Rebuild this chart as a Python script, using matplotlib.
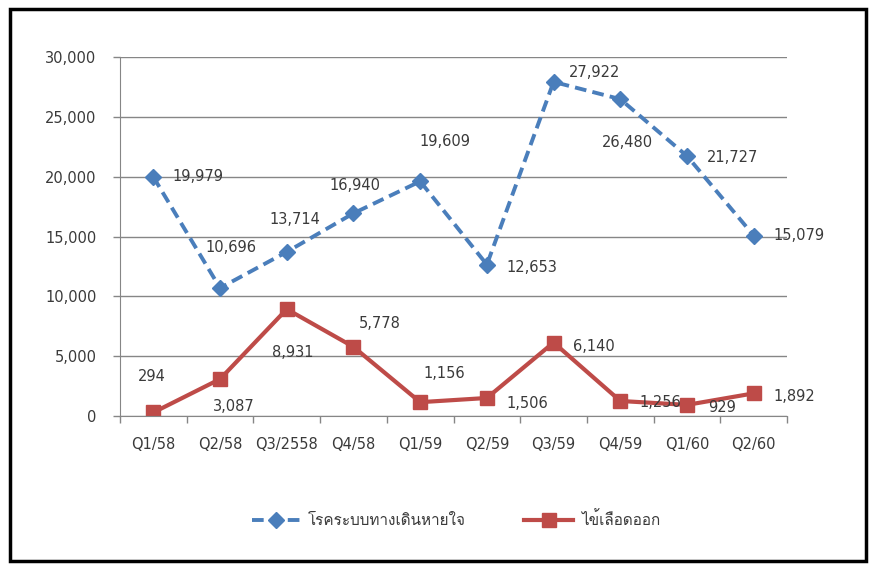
import matplotlib
matplotlib.use("Agg")
import matplotlib.pyplot as plt
import matplotlib.patches as patches
from matplotlib import font_manager
from matplotlib.ft2font import FT2Font

quarters = ["Q1/58", "Q2/58", "Q3/2558", "Q4/58", "Q1/59", "Q2/59", "Q3/59", "Q4/59", "Q1/60", "Q2/60"]
respiratory = [19979, 10696, 13714, 16940, 19609, 12653, 27922, 26480, 21727, 15079]
dengue = [294, 3087, 8931, 5778, 1156, 1506, 6140, 1256, 929, 1892]
series_names = ["โรคระบบทางเดินหายใจ", "ไข้เลือดออก"]

# label offsets in points (dx, dy) and horizontal alignment
resp_offsets = [(14, 0, "left"), (8, 29, "center"), (6, 23, "center"), (1, 20, "center"),
                (18, 29, "center"), (14, -2, "left"), (11, 7, "left"), (5, -31, "center"),
                (14, -1, "left"), (14, 0, "left")]
deng_offsets = [(-1, 26, "center"), (10, -20, "center"), (4, -31, "center"), (19, 17, "center"),
                (17, 21, "center"), (14, -4, "left"), (14, -3, "left"), (14, -1, "left"),
                (15, -2, "left"), (14, -2, "left")]


def find_thai_font():
    for f in font_manager.fontManager.ttflist:
        try:
            cm = FT2Font(f.fname).get_charmap()
        except Exception:
            continue
        if ord("ใ") in cm and ord("ห") in cm:
            return f.name
    return None


thai = find_thai_font()
families = ["DejaVu Sans"]
if thai:
    families = [thai, "DejaVu Sans"]

blue = "#4A7EBB"
red = "#BE4B48"
txt = "#3a3a3a"

fig = plt.figure(figsize=(8.72, 5.68), dpi=100)
ax = fig.add_axes([0.1376, 0.2676, 0.765, 0.632])
x = range(len(quarters))

ax.plot(x, respiratory, color=blue, lw=2.8, ls=(0, (3, 1.6)), marker="D", ms=8.5,
        label=series_names[0])
ax.plot(x, dengue, color=red, lw=3, marker="s", ms=10, label=series_names[1])

for i in x:
    dx, dy, ha = resp_offsets[i]
    ax.annotate(f"{respiratory[i]:,}", (i, respiratory[i]), xytext=(dx, dy),
                textcoords="offset points", ha=ha, va="center", fontsize=10.5, color=txt)
    dx, dy, ha = deng_offsets[i]
    ax.annotate(f"{dengue[i]:,}", (i, dengue[i]), xytext=(dx, dy),
                textcoords="offset points", ha=ha, va="center", fontsize=10.5, color=txt)

ax.set_xlim(-0.5, len(quarters) - 0.5)
ax.set_ylim(0, 30000)
ax.set_yticks(range(0, 30001, 5000))
ax.set_yticklabels([f"{v:,}" for v in range(0, 30001, 5000)])
ax.set_xticks(list(x))
ax.set_xticklabels(quarters)
ax.set_xticks([i - 0.5 for i in range(len(quarters) + 1)], minor=True)
ax.tick_params(axis="x", which="major", length=0, pad=15, labelsize=10.5, labelcolor=txt)
ax.tick_params(axis="x", which="minor", length=5, color="#868686", width=1)
ax.tick_params(axis="y", length=5, color="#868686", width=1, pad=12, labelsize=10.5, labelcolor=txt)
ax.grid(axis="y", color="#868686", lw=1)
ax.set_axisbelow(True)
for s in ["top", "right"]:
    ax.spines[s].set_visible(False)
for s in ["left", "bottom"]:
    ax.spines[s].set_color("#868686")

fig.legend(loc="center", bbox_to_anchor=(0.523, 0.085), ncol=2, frameon=False,
           handlelength=3.2, handletextpad=0.5, columnspacing=3.8,
           prop={"family": families, "size": 11})
for t in fig.legends[0].get_texts():
    t.set_color(txt)

fig.patches.append(patches.Rectangle((0.011, 0.012), 0.982, 0.972, transform=fig.transFigure,
                                     fill=False, ec="black", lw=2.5))

fig.savefig("out.png", dpi=100)
